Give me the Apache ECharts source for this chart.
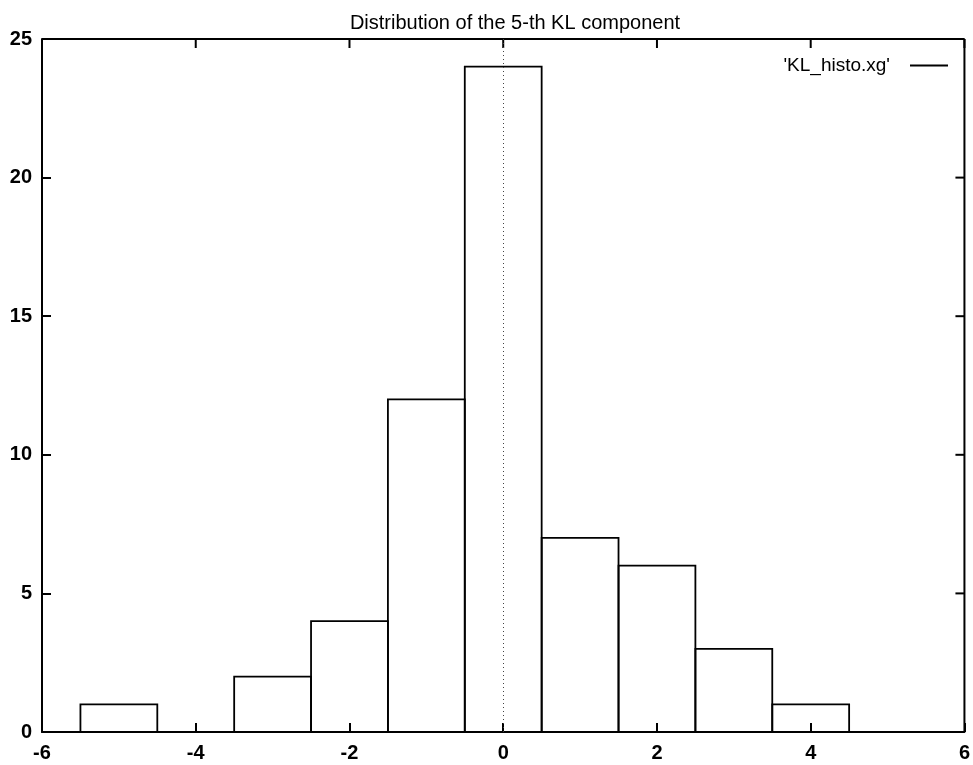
<!DOCTYPE html>
<html><head><meta charset="utf-8">
<script src="https://cdn.jsdelivr.net/npm/echarts@6/dist/echarts.min.js"></script>
<style>html,body{margin:0;padding:0;background:#fff}#c{width:973px;height:765px}</style>
</head><body><div id="c"></div>
<script>
const titleText = "Distribution of the 5-th KL component";
const seriesName = "'KL_histo.xg'";
const binCenters = [-5, -4, -3, -2, -1, 0, 1, 2, 3, 4, 5];
const binCounts  = [1, 0, 2, 4, 12, 24, 7, 6, 3, 1, 0];
const binWidth = 1;
const xTicks = [-6, -4, -2, 0, 2, 4, 6];
const yTicks = [0, 5, 10, 15, 20, 25];

const chart = echarts.init(document.getElementById('c'), null, {renderer:'canvas'});
const font = '"Liberation Sans", Arial, sans-serif';
const data = binCenters.map((c,i)=>[c, binCounts[i]]);
chart.setOption({
  animation:false,
  backgroundColor:'#fff',
  title:{text:titleText,left:510,top:8,textAlign:'center',textStyle:{fontFamily:font,fontSize:20,fontWeight:'normal',color:'#000'}},
  legend:{right:20,top:51,orient:'horizontal',align:'right',itemWidth:38,itemHeight:2,icon:'rect',
    textStyle:{fontFamily:font,fontSize:19,color:'#000',padding:[0,15,0,0]},data:[{name:seriesName,itemStyle:{color:'#000'}}]},
  grid:{left:42,right:1,top:39,bottom:33,containLabel:false},
  xAxis:{type:'value',min:xTicks[0],max:xTicks[xTicks.length-1],interval:2,
    axisLine:{show:true,onZero:false,lineStyle:{color:'#000',width:2}},
    axisTick:{show:true,inside:true,length:9,lineStyle:{color:'#000',width:2}},
    axisLabel:{fontFamily:font,fontSize:20,fontWeight:'bold',color:'#000',margin:11},
    splitLine:{show:false}},
  yAxis:{type:'value',min:yTicks[0],max:yTicks[yTicks.length-1],interval:5,
    axisLine:{show:true,onZero:false,lineStyle:{color:'#000',width:2}},
    axisTick:{show:true,inside:true,length:9,lineStyle:{color:'#000',width:2}},
    axisLabel:{fontFamily:font,fontSize:20,fontWeight:'bold',color:'#000',margin:10},
    splitLine:{show:false}},
  series:[{
    name:seriesName,type:'custom',
    itemStyle:{color:'#000'},
    data:data,
    renderItem:function(params,api){
      const c=api.value(0), h=api.value(1);
      if(h<=0) return null;
      const p0=api.coord([c-binWidth/2,h]);
      const p1=api.coord([c+binWidth/2,0]);
      return {type:'rect',shape:{x:p0[0],y:p0[1],width:p1[0]-p0[0],height:p1[1]-p0[1]},
        style:{fill:'none',stroke:'#000',lineWidth:1.8}};
    },
    markLine:{silent:true,symbol:'none',label:{show:false},
      lineStyle:{color:'#444',type:[1,3],width:1},
      data:[{xAxis:0}]}
  }]
});
const gfx=[];
const r=chart.convertToPixel({gridIndex:0},[6,25]);
const o=chart.convertToPixel({gridIndex:0},[-6,0]);
xTicks.forEach(t=>{const p=chart.convertToPixel({gridIndex:0},[t,25]);
  gfx.push({type:'line',shape:{x1:p[0],y1:p[1],x2:p[0],y2:p[1]+9},style:{stroke:'#000',lineWidth:2}});});
yTicks.forEach(t=>{const p=chart.convertToPixel({gridIndex:0},[6,t]);
  gfx.push({type:'line',shape:{x1:p[0],y1:p[1],x2:p[0]-9,y2:p[1]},style:{stroke:'#000',lineWidth:2}});});
gfx.push({type:'line',shape:{x1:o[0],y1:r[1],x2:r[0],y2:r[1]},style:{stroke:'#000',lineWidth:2}});
gfx.push({type:'line',shape:{x1:r[0],y1:r[1],x2:r[0],y2:o[1]},style:{stroke:'#000',lineWidth:2}});
chart.setOption({graphic:gfx});
</script></body></html>
